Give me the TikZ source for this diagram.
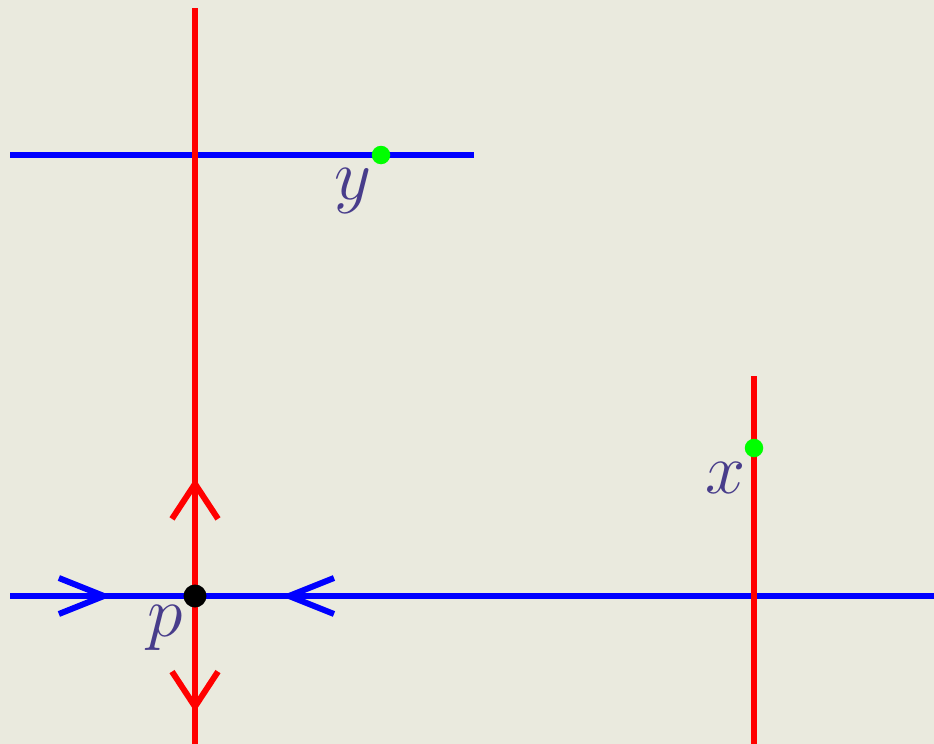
\RequirePackage{fix-cm}
\documentclass[tikz,border=0pt]{standalone}
\usetikzlibrary{positioning,arrows.meta}
\usetikzlibrary{decorations.markings}
\definecolor{paper}{RGB}{234,234,222}
\definecolor{labelblue}{RGB}{72,61,139}
\tikzset{
  stable/.style={line width=0.12cm,draw=blue, postaction={decorate},
    decoration={markings,mark=at position #1 with {\arrow[blue]{Straight Barb[length=0.9cm,width=0.72cm,line width=0.12cm]}}}},
  unstable/.style={line width=0.12cm,draw=red, postaction={decorate},
    decoration={markings,mark=at position #1 with {\arrow[red]{Straight Barb[length=0.7cm,width=0.92cm,line width=0.12cm]}}}},
  leafblue/.style={line width=0.12cm,draw=blue},
  leafred/.style={line width=0.12cm,draw=red},
  gpoint/.style={circle,fill=green,inner sep=0pt,minimum size=0.37cm},
  fixpoint/.style={circle,fill=black,inner sep=0pt,minimum size=0.46cm},
  lbl/.style={text=labelblue,inner sep=0pt,font=\fontsize{41}{49}\selectfont}
}

\begin{document}
\begin{tikzpicture}[x=0.02cm,y=-0.02cm]
  \fill[paper] (0,0) rectangle (934,744);
  \useasboundingbox (0,0) rectangle (934,744);
  % ends of the leaves
  \coordinate (wl) at (10,596);
  \coordinate (wm) at (383,596);
  \coordinate (wr) at (934,596);
  \coordinate (ul) at (195,8);
  \coordinate (ub) at (195,744);
  \coordinate (tl) at (10,155);
  \coordinate (tr) at (474,155);
  \coordinate (xt) at (754,376);
  \coordinate (xb) at (754,744);
  % blue leaves
  \draw[leafblue] (tl) -- (tr);
  \draw[stable=0.551] (wl) -- (195,596);
  \draw[stable=0.543] (wm) -- (195,596);
  \draw[leafblue] (wm) -- (wr);
  % red leaves
  \draw[unstable=0.2] (195,596) -- (ul);
  \draw[unstable=0.784] (195,596) -- (ub);
  \draw[leafred] (xt) -- (xb);
  % points
  \node[fixpoint] (p) at (195,596) {};
  \node[gpoint] (y) at (381,155) {};
  \node[gpoint] (x) at (754,448) {};
  \node[lbl] (plbl) at (165,628) {$p$};
  \node[lbl] (ylbl) at (353,191) {$y$};
  \node[lbl] (xlbl) at (726,478) {$x$};
\end{tikzpicture}
\end{document}
